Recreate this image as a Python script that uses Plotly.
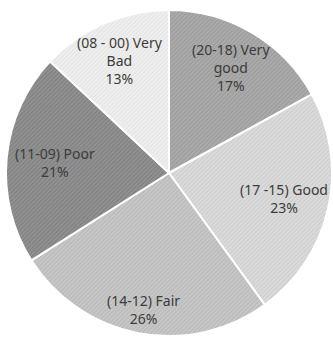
import math
import plotly.graph_objects as go

labels = ["(20-18) Very<br>good", "(17 -15) Good", "(14-12) Fair", "(11-09) Poor", "(08 - 00) Very<br>Bad"]
values = [17, 23, 26, 21, 13]
fills = ["#acacac", "#dcdcdc", "#c8c8c8", "#939393", "#f0f0f0"]
hatch = ["#989898", "#cbcbcb", "#b6b6b6", "#7c7c7c", "#e2e2e2"]
label_radius = [0.75, 0.72, 0.85, 0.70, 0.75]

fig = go.Figure(go.Pie(
    labels=labels,
    values=values,
    sort=False,
    direction="clockwise",
    rotation=0,
    textinfo="none",
    marker=dict(
        colors=fills,
        line=dict(color="white", width=2),
        pattern=dict(shape="/", fgcolor=hatch, bgcolor=fills, size=3, solidity=0.35, fillmode="replace"),
    ),
    showlegend=False,
    hoverinfo="label+percent",
    domain=dict(x=[0, 1], y=[0, 1]),
))

total = sum(values)
cum = 0
annotations = []
for lab, v, rf in zip(labels, values, label_radius):
    mid = (cum + v / 2) / total * 2 * math.pi
    cum += v
    pct = round(v / total * 100)
    annotations.append(dict(
        x=0.5 + 0.5 * rf * math.sin(mid),
        y=0.5 + 0.5 * rf * math.cos(mid),
        xref="paper", yref="paper",
        text=f"{lab}<br>{pct}%",
        showarrow=False,
        xanchor="center", yanchor="middle",
        font=dict(family="Noto Sans", size=14, color="#3c3c3c"),
    ))

fig.update_layout(
    width=333, height=337,
    margin=dict(l=6, r=1, t=10, b=1),
    paper_bgcolor="white",
    plot_bgcolor="white",
    annotations=annotations,
)
fig.write_html("out.html")
